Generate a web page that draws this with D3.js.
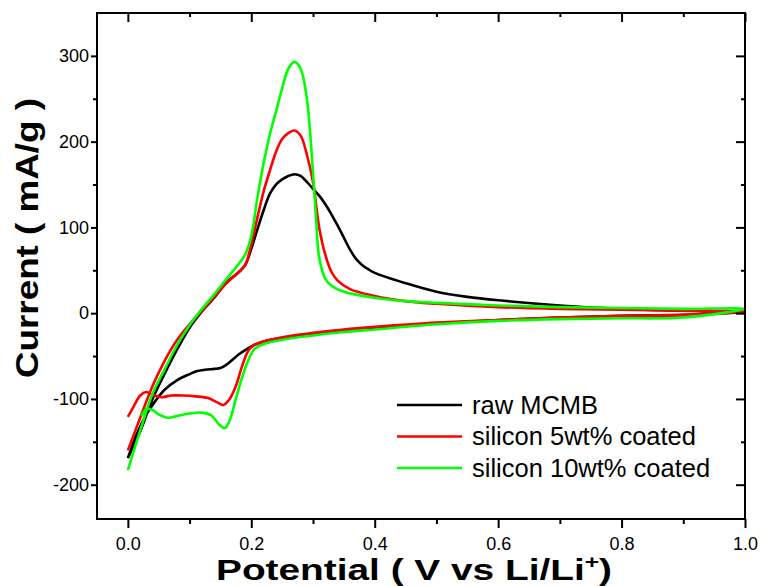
<!DOCTYPE html>
<html>
<head>
<meta charset="utf-8">
<script src="https://cdnjs.cloudflare.com/ajax/libs/d3/7.8.5/d3.min.js"></script>
<style>
  body { margin: 0; background: #fff; }
  text { font-family: "Liberation Sans", Arial, sans-serif; }
</style>
</head>
<body>
<script>
// cyclic voltammograms: anodic sweep 0 -> 1 V, then cathodic sweep back to 0 V
const rawMCMB = [
  [0, -169], [0.02, -138], [0.04, -100], [0.06, -70], [0.08, -42], [0.1, -17], [0.12, 2], [0.14, 18],
  [0.16, 36], [0.18, 48], [0.19, 56], [0.2, 75], [0.21, 98], [0.22, 120], [0.23, 139], [0.24, 150],
  [0.25, 156], [0.26, 160], [0.27, 162], [0.28, 160], [0.29, 153], [0.3, 145], [0.31, 137], [0.32, 127],
  [0.33, 115], [0.34, 102], [0.35, 88], [0.36, 74], [0.37, 63], [0.38, 56], [0.39, 51], [0.4, 47],
  [0.45, 35], [0.5, 25], [0.55, 19], [0.6, 15], [0.7, 9], [0.8, 5], [0.9, 3], [1.0, 1],
  [0.9, -2], [0.8, -3], [0.7, -5], [0.6, -8], [0.5, -12], [0.4, -17], [0.35, -20], [0.3, -24],
  [0.25, -29], [0.22, -33], [0.205, -37], [0.19, -43], [0.18, -48], [0.17, -54], [0.16, -60], [0.15, -64],
  [0.14, -65], [0.125, -66], [0.11, -68], [0.1, -71], [0.08, -78], [0.06, -89], [0.045, -102], [0.03, -118],
  [0.015, -140], [0, -169]
];

const silicon5 = [
  [0, -160], [0.02, -122], [0.04, -85], [0.06, -55], [0.08, -31], [0.1, -13], [0.12, 3], [0.14, 19],
  [0.16, 35], [0.18, 48], [0.19, 56], [0.2, 80], [0.21, 112], [0.22, 142], [0.23, 166], [0.24, 188],
  [0.25, 203], [0.26, 210], [0.27, 213], [0.28, 207], [0.29, 185], [0.3, 153], [0.31, 100], [0.32, 68],
  [0.33, 48], [0.34, 38], [0.36, 28], [0.4, 20], [0.45, 14], [0.5, 11], [0.6, 7], [0.7, 5],
  [0.8, 4], [0.9, 3], [1.0, 2],
  [0.9, -2], [0.8, -3], [0.7, -5], [0.6, -8], [0.5, -11], [0.4, -16], [0.35, -19], [0.3, -23],
  [0.25, -28], [0.22, -33], [0.205, -37], [0.195, -44], [0.185, -62], [0.175, -85], [0.165, -100], [0.155, -107],
  [0.145, -104], [0.13, -99], [0.11, -97], [0.09, -96], [0.07, -96], [0.055, -98], [0.04, -95], [0.03, -92],
  [0.02, -96], [0.01, -108], [0, -121]
];

const silicon10 = [
  [0, -183], [0.02, -137], [0.04, -94], [0.06, -65], [0.08, -37], [0.1, -14], [0.12, 5], [0.14, 22],
  [0.16, 40], [0.18, 58], [0.19, 68], [0.2, 90], [0.21, 135], [0.22, 175], [0.23, 208], [0.24, 235],
  [0.25, 262], [0.26, 285], [0.27, 293], [0.28, 285], [0.29, 250], [0.3, 164], [0.305, 110], [0.31, 65],
  [0.32, 40], [0.33, 32], [0.35, 25], [0.4, 18], [0.45, 14], [0.5, 12], [0.6, 9], [0.7, 7],
  [0.8, 6], [0.9, 5], [1.0, 5],
  [0.9, -5], [0.8, -6], [0.7, -7], [0.6, -9], [0.5, -13], [0.4, -19], [0.35, -22], [0.3, -26],
  [0.25, -31], [0.22, -36], [0.205, -42], [0.195, -55], [0.185, -75], [0.175, -100], [0.165, -125], [0.157, -134],
  [0.148, -130], [0.135, -119], [0.12, -116], [0.1, -117], [0.08, -120], [0.065, -122], [0.05, -118], [0.04, -113],
  [0.03, -112], [0.022, -120]
];

const seriesNames = ["raw MCMB", "silicon 5wt% coated", "silicon 10wt% coated"];
const seriesColors = ["#000000", "#ff0000", "#00ff00"];
const seriesData = [rawMCMB, silicon5, silicon10];

const xMajor = [0, 0.2, 0.4, 0.6, 0.8, 1.0];
const xMinor = [0.1, 0.3, 0.5, 0.7, 0.9];
const yMajor = [-200, -100, 0, 100, 200, 300];
const yMinor = [-150, -50, 50, 150, 250];

const width = 760, height = 586;
const margin = { top: 13, right: 15, bottom: 67, left: 97 };

const svg = d3.select("body").append("svg")
  .attr("width", width)
  .attr("height", height);

const x = d3.scaleLinear().domain([-0.05, 1.0]).range([margin.left, width - margin.right]);
const y = d3.scaleLinear().domain([-240, 350]).range([height - margin.bottom, margin.top]);

const line = d3.line()
  .x(d => x(d[0]))
  .y(d => y(d[1]))
  .curve(d3.curveCatmullRom.alpha(0.5));

svg.append("g")
  .selectAll("path")
  .data(seriesData)
  .enter().append("path")
  .attr("d", line)
  .attr("fill", "none")
  .attr("stroke", (d, i) => seriesColors[i])
  .attr("stroke-width", 2.6)
  .attr("stroke-linejoin", "round");

// axes
const fmtX = d => d.toFixed(1);
const fmtY = d => String(d);

function styleAxis(g) {
  g.select(".domain").remove();
  g.selectAll("line").attr("stroke", "#000").attr("stroke-width", 2);
  g.selectAll("text").attr("font-size", 18).attr("fill", "#000");
}

const yB = height - margin.bottom, xL = margin.left;

svg.append("g").attr("transform", `translate(0,${yB})`)
  .call(d3.axisBottom(x).tickValues(xMajor).tickFormat(fmtX).tickSize(9).tickPadding(9))
  .call(styleAxis);
svg.append("g").attr("transform", `translate(0,${yB})`)
  .call(d3.axisBottom(x).tickValues(xMinor).tickFormat("").tickSize(5))
  .call(styleAxis);
svg.append("g").attr("transform", `translate(${xL},0)`)
  .call(d3.axisLeft(y).tickValues(yMajor).tickFormat(fmtY).tickSize(6).tickPadding(2))
  .call(styleAxis);
svg.append("g").attr("transform", `translate(${xL},0)`)
  .call(d3.axisLeft(y).tickValues(yMinor).tickFormat("").tickSize(4))
  .call(styleAxis);

// inward ticks on top and right
svg.append("g").attr("transform", `translate(0,${margin.top})`)
  .call(d3.axisTop(x).tickValues(xMajor).tickFormat("").tickSize(-9))
  .call(styleAxis);
svg.append("g").attr("transform", `translate(0,${margin.top})`)
  .call(d3.axisTop(x).tickValues(xMinor).tickFormat("").tickSize(-4))
  .call(styleAxis);
svg.append("g").attr("transform", `translate(${width - margin.right},0)`)
  .call(d3.axisRight(y).tickValues(yMajor).tickFormat("").tickSize(-9))
  .call(styleAxis);
svg.append("g").attr("transform", `translate(${width - margin.right},0)`)
  .call(d3.axisRight(y).tickValues(yMinor).tickFormat("").tickSize(-4))
  .call(styleAxis);

// frame
svg.append("rect")
  .attr("x", margin.left)
  .attr("y", margin.top)
  .attr("width", width - margin.left - margin.right)
  .attr("height", height - margin.top - margin.bottom)
  .attr("fill", "none")
  .attr("stroke", "#000")
  .attr("stroke-width", 2);

// axis titles
const xt = svg.append("text")
  .attr("x", 414)
  .attr("y", 580)
  .attr("text-anchor", "middle")
  .attr("font-size", 30)
  .attr("font-weight", "bold")
  .attr("textLength", 396)
  .attr("lengthAdjust", "spacingAndGlyphs")
  .text("Potential ( V vs Li/Li");
xt.append("tspan").attr("font-size", 19).attr("dy", -12).text("+");
xt.append("tspan").attr("dy", 12).text(")");

svg.append("text")
  .attr("transform", "translate(38,238) rotate(-90)")
  .attr("text-anchor", "middle")
  .attr("font-size", 31)
  .attr("font-weight", "bold")
  .attr("textLength", 280)
  .attr("lengthAdjust", "spacingAndGlyphs")
  .text("Current ( mA/g )");

// legend
const legend = svg.append("g")
  .selectAll("g")
  .data(seriesNames)
  .enter().append("g")
  .attr("transform", (d, i) => `translate(397,${405 + i * 31.5})`);

legend.append("line")
  .attr("x1", 0).attr("x2", 65)
  .attr("stroke", (d, i) => seriesColors[i])
  .attr("stroke-width", 2.6);

legend.append("text")
  .attr("x", 75)
  .attr("dy", "0.35em")
  .attr("font-size", 25.5)
  .text(d => d);
</script>
</body>
</html>
